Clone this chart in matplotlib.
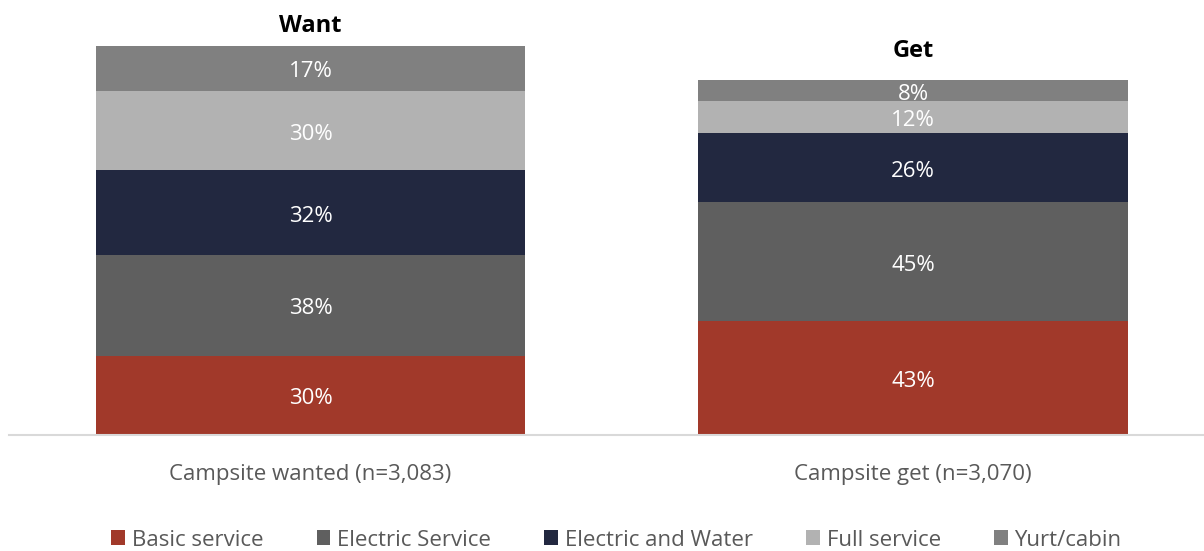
import numpy as np
import matplotlib.pyplot as plt
from matplotlib.patches import Patch

plt.rcParams['font.family'] = ['Open Sans', 'DejaVu Sans']

# campsite type shares (%), wanted vs. actually booked
categories = ['Campsite wanted (n=3,083)', 'Campsite get (n=3,070)']
titles = ['Want', 'Get']
series = ['Basic service', 'Electric Service', 'Electric and Water', 'Full service', 'Yurt/cabin']
basic = [30, 43]
electric = [38, 45]
elec_water = [32, 26]
full = [30, 12]
yurt = [17, 8]

colors = ['#A1392A', '#5F5F5F', '#222840', '#B2B2B2', '#808080']
values = [basic, electric, elec_water, full, yurt]

fig = plt.figure(figsize=(12.04, 5.51), dpi=100)
ax = fig.add_axes([9.25 / 1204, 116 / 551, 1205 / 1204, 423.5 / 551])

x = np.arange(len(categories))
bottom = np.zeros(len(categories))
for name, vals, col in zip(series, values, colors):
    vals = np.array(vals, dtype=float)
    ax.bar(x, vals, 0.713, bottom=bottom, color=col, label=name, linewidth=0)
    for xi, b, v in zip(x, bottom, vals):
        ax.annotate(f'{v:.0f}%', (xi, b + v / 2), xytext=(0, -2.5), textcoords='offset points',
                    ha='center', va='center', color='white', fontsize=16)
    bottom += vals

# bar headers
title_offsets = [20, 29]
for xi, tot, t, off in zip(x, bottom, titles, title_offsets):
    ax.annotate(t, (xi, tot), xytext=(0, off * 0.72), textcoords='offset points',
                ha='center', va='center', fontsize=17, fontweight='bold', color='black')

ax.set_xlim(-0.5, 1.5)
ax.set_ylim(0, 160)
ax.set_yticks([])
ax.set_xticks(x)
ax.set_xticklabels(categories, fontsize=16, color='#595959')
ax.tick_params(axis='x', length=0, pad=21)
for s in ['top', 'right', 'left']:
    ax.spines[s].set_visible(False)
ax.spines['bottom'].set_color('#D9D9D9')
ax.spines['bottom'].set_linewidth(1.5)

handles = [Patch(facecolor=c, label=s) for s, c in zip(series, colors)]
fig.legend(handles=handles, loc='center', bbox_to_anchor=(0.512, 1 - 540 / 551), ncol=5,
           frameon=False, fontsize=16, handlelength=0.62, handleheight=0.62,
           handletextpad=0.3, columnspacing=2.4, labelcolor='#595959')

fig.savefig('out.png', dpi=100)
